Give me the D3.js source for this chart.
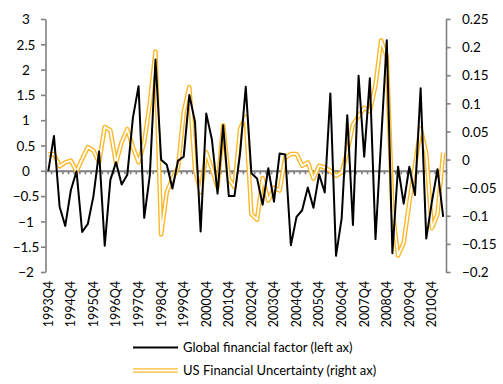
<!DOCTYPE html>
<html><head><meta charset="utf-8">
<script src="https://cdn.jsdelivr.net/npm/d3@7"></script>
<style>
html,body{margin:0;padding:0;background:#fff;}
svg text{font-family:Lato,"Liberation Sans",sans-serif;fill:#000;}
</style></head>
<body><svg id="c" width="503" height="384"></svg>
<script>
const categories = ["1993Q4","1994Q1","1994Q2","1994Q3","1994Q4","1995Q1","1995Q2","1995Q3","1995Q4","1996Q1","1996Q2","1996Q3","1996Q4","1997Q1","1997Q2","1997Q3","1997Q4","1998Q1","1998Q2","1998Q3","1998Q4","1999Q1","1999Q2","1999Q3","1999Q4","2000Q1","2000Q2","2000Q3","2000Q4","2001Q1","2001Q2","2001Q3","2001Q4","2002Q1","2002Q2","2002Q3","2002Q4","2003Q1","2003Q2","2003Q3","2003Q4","2004Q1","2004Q2","2004Q3","2004Q4","2005Q1","2005Q2","2005Q3","2005Q4","2006Q1","2006Q2","2006Q3","2006Q4","2007Q1","2007Q2","2007Q3","2007Q4","2008Q1","2008Q2","2008Q3","2008Q4","2009Q1","2009Q2","2009Q3","2009Q4","2010Q1","2010Q2","2010Q3","2010Q4","2011Q1","2011Q2"];
const tickLabels = ["1993Q4","1994Q4","1995Q4","1996Q4","1997Q4","1998Q4","1999Q4","2000Q4","2001Q4","2002Q4","2003Q4","2004Q4","2005Q4","2006Q4","2007Q4","2008Q4","2009Q4","2010Q4"];
const globalFactor = [0,0.69,-0.71,-1.09,-0.38,-0.01,-1.21,-1.05,-0.5,0.38,-1.48,-0.18,0.17,-0.27,-0.08,1.05,1.67,-0.93,-0.08,2.2,0.22,0.12,-0.35,0.2,0.28,1.5,0.97,-1.2,1.13,0.62,-0.45,0.9,-0.5,-0.5,0.35,1.66,-0.05,-0.15,-0.67,0.05,-0.61,0.34,0.32,-1.47,-0.91,-0.78,-0.33,-0.73,-0.07,-0.43,1.53,-1.68,-0.94,1.1,-1.07,1.88,0.28,1.83,-1.35,0.6,2.58,-1.63,0.08,-0.65,0.08,-0.48,1.63,-1.34,-0.61,0.03,-0.91];
const usUncertainty = [0.009,0.01,-0.012,-0.005,-0.002,-0.021,0.001,0.022,0.016,-0.005,0.058,0.052,-0.006,0.031,0.054,0.022,-0.005,0.031,0.1,0.192,-0.133,-0.058,-0.034,-0.014,0.084,0.129,-0.017,-0.058,0.013,-0.017,-0.049,0.061,-0.034,-0.049,0.055,0.076,-0.097,-0.107,-0.033,-0.073,-0.05,-0.055,0.003,0.01,0.01,-0.011,-0.005,-0.034,-0.011,-0.014,-0.02,-0.029,-0.023,0.014,0.062,0.077,0.092,0.086,0.132,0.212,0.183,-0.09,-0.171,-0.148,-0.076,-0.011,0.055,0.011,-0.122,-0.097,0.012];
const leftTicks = [-2,-1.5,-1,-0.5,0,0.5,1,1.5,2,2.5,3];
const rightTicks = [-0.2,-0.15,-0.1,-0.05,0,0.05,0.1,0.15,0.2,0.25];
const seriesNames = ["Global financial factor (left ax)","US Financial Uncertainty (right ax)"];

const svg = d3.select("#c");
const L = 45.5, R = 446, T = 19, B = 272;
const x = d3.scaleBand().domain(categories).range([L, R]).padding(0);
const xi = d3.scaleLinear().domain([0, categories.length]).range([L, R]);
const yL = d3.scaleLinear().domain([-2, 3]).range([B, T]);
const yR = d3.scaleLinear().domain([-0.2, 0.25]).range([B, T]);
const cx = d => x(d) + x.bandwidth()/2;
const axisColor = "#808080";

// left axis
const gl = svg.append("g").attr("transform",`translate(${L},0)`)
  .call(d3.axisLeft(yL).tickValues(leftTicks).tickSize(4.5).tickSizeOuter(0).tickFormat(d3.format("")));
gl.select(".domain").attr("stroke",axisColor).attr("stroke-width",1.6);
gl.selectAll(".tick line").attr("stroke",axisColor).attr("stroke-width",1.6);
gl.selectAll(".tick text").attr("x",-19.5).attr("text-anchor","middle").attr("font-size","13.5px").attr("dy","0.35em");

// right axis
const gr = svg.append("g").attr("transform",`translate(${R},0)`)
  .call(d3.axisRight(yR).tickValues(rightTicks).tickSize(4.5).tickSizeOuter(0).tickFormat(d3.format("")));
gr.select(".domain").attr("stroke",axisColor).attr("stroke-width",1.6);
gr.selectAll(".tick line").attr("stroke",axisColor).attr("stroke-width",1.6);
gr.selectAll(".tick text").attr("x",16).attr("text-anchor","start").attr("font-size","13.5px").attr("dy","0.35em");

// category axis line at zero with boundary ticks
const gz = svg.append("g").attr("transform",`translate(0,${yL(0)})`)
  .call(d3.axisBottom(xi).tickValues(d3.range(0, categories.length+1)).tickSize(3.5).tickSizeOuter(0).tickFormat(""));
gz.select(".domain").attr("stroke",axisColor).attr("stroke-width",2);
gz.selectAll(".tick line").attr("stroke",axisColor).attr("stroke-width",1.6);

// category labels
const gx = svg.append("g").attr("transform",`translate(0,276)`)
  .call(d3.axisBottom(x).tickValues(tickLabels).tickSize(0));
gx.select(".domain").remove();
gx.selectAll(".tick text").attr("transform","rotate(-90)").attr("x",-5).attr("y",0)
  .attr("dy","0.35em").attr("text-anchor","end").attr("font-size","12.5px");

// lines
const lineL = d3.line().x((d,i)=>cx(categories[i])).y(d=>yL(d));
const lineR = d3.line().x((d,i)=>cx(categories[i])).y(d=>yR(d));
const orange = "#FBB829";
svg.append("path").datum(usUncertainty).attr("d",lineR).attr("fill","none")
  .attr("stroke",orange).attr("stroke-width",4.6).attr("stroke-linejoin","round");
svg.append("path").datum(usUncertainty).attr("d",lineR).attr("fill","none")
  .attr("stroke","#fff").attr("stroke-width",1.8).attr("stroke-linejoin","round");
svg.append("path").datum(globalFactor).attr("d",lineL).attr("fill","none")
  .attr("stroke","#000").attr("stroke-width",2).attr("stroke-linejoin","round");

// legend
const lg = svg.append("g");
lg.append("line").attr("x1",133).attr("x2",178).attr("y1",347.5).attr("y2",347.5).attr("stroke","#000").attr("stroke-width",2);
lg.append("text").attr("x",183).attr("y",347.5).attr("dy","0.35em").attr("font-size","13px").text(seriesNames[0]);
lg.append("line").attr("x1",133).attr("x2",178).attr("y1",370.5).attr("y2",370.5).attr("stroke",orange).attr("stroke-width",4.6);
lg.append("line").attr("x1",133).attr("x2",178).attr("y1",370.5).attr("y2",370.5).attr("stroke","#fff").attr("stroke-width",1.8);
lg.append("text").attr("x",183).attr("y",370.5).attr("dy","0.35em").attr("font-size","13px").text(seriesNames[1]);
</script></body></html>
